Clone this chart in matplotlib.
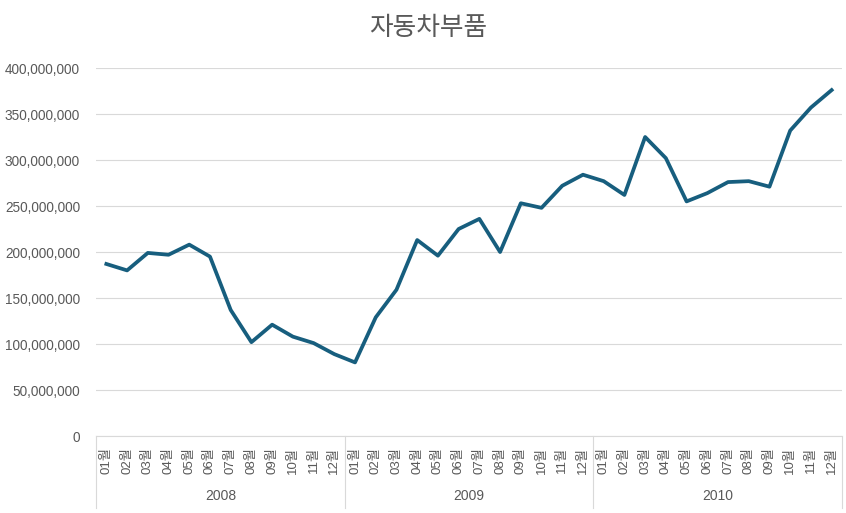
#자동차부품 monthly line chart, 2008-2010

import numpy as np
import matplotlib.pyplot as plt
from matplotlib.ticker import FuncFormatter
import matplotlib.transforms as mtransforms

plt.rcParams['font.family'] = ['Liberation Sans', 'Noto Sans CJK KR', 'DejaVu Sans']

title = "자동차부품"
years = ["2008", "2009", "2010"]
months = ["01월", "02월", "03월", "04월", "05월", "06월",
          "07월", "08월", "09월", "10월", "11월", "12월"]

#values
v2008 = [187e6, 180e6, 199e6, 197e6, 208e6, 195e6, 137e6, 102e6, 121e6, 108e6, 101e6, 89e6]
v2009 = [80e6, 129e6, 159e6, 213e6, 196e6, 225e6, 236e6, 200e6, 253e6, 248e6, 272e6, 284e6]
v2010 = [277e6, 262e6, 325e6, 302e6, 255e6, 264e6, 276e6, 277e6, 271e6, 332e6, 357e6, 376e6]

values = v2008 + v2009 + v2010
labels = months * len(years)
x = np.arange(len(values))

gray = "#595959"
grid = "#d9d9d9"

fig = plt.figure(figsize=(8.46, 5.13), dpi=100)
ax = fig.add_axes([96/846, 77/513, 746/846, 368/513])

ax.plot(x, values, color="#175e7e", lw=2.7, solid_joinstyle="round", zorder=3)

ax.set_xlim(-0.5, len(values) - 0.5)
ax.set_ylim(0, 400e6)
ax.set_yticks(np.arange(0, 400e6 + 1, 50e6))
ax.yaxis.set_major_formatter(FuncFormatter(lambda v, p: f"{int(v):,}"))
ax.grid(axis="y", color=grid, lw=0.8)
ax.set_axisbelow(True)

for s in ["top", "right", "left"]:
    ax.spines[s].set_visible(False)
ax.spines["bottom"].set_color(grid)
ax.spines["bottom"].set_linewidth(0.8)

ax.tick_params(axis="y", length=0, pad=11.5, labelsize=9.8, labelcolor=gray)
ax.set_xticks(x)
ax.set_xticklabels(labels, rotation=90, fontsize=9.5, color=gray)
ax.tick_params(axis="x", length=0, pad=8)

#year group labels and separators
trans = mtransforms.blended_transform_factory(ax.transData, ax.transAxes)
for i, yr in enumerate(years):
    ax.text(i*12 + 5.5, -0.163, yr, transform=trans, ha="center", va="center",
            fontsize=10, color=gray)
for i in range(len(years) + 1):
    ax.plot([i*12 - 0.5, i*12 - 0.5], [0, -0.196], transform=trans,
            color=grid, lw=0.8, clip_on=False)

fig.text(428/846, 1 - 28/513, title, ha="center", va="center", fontsize=18.5, color=gray)

plt.savefig("out.png", dpi=100)
